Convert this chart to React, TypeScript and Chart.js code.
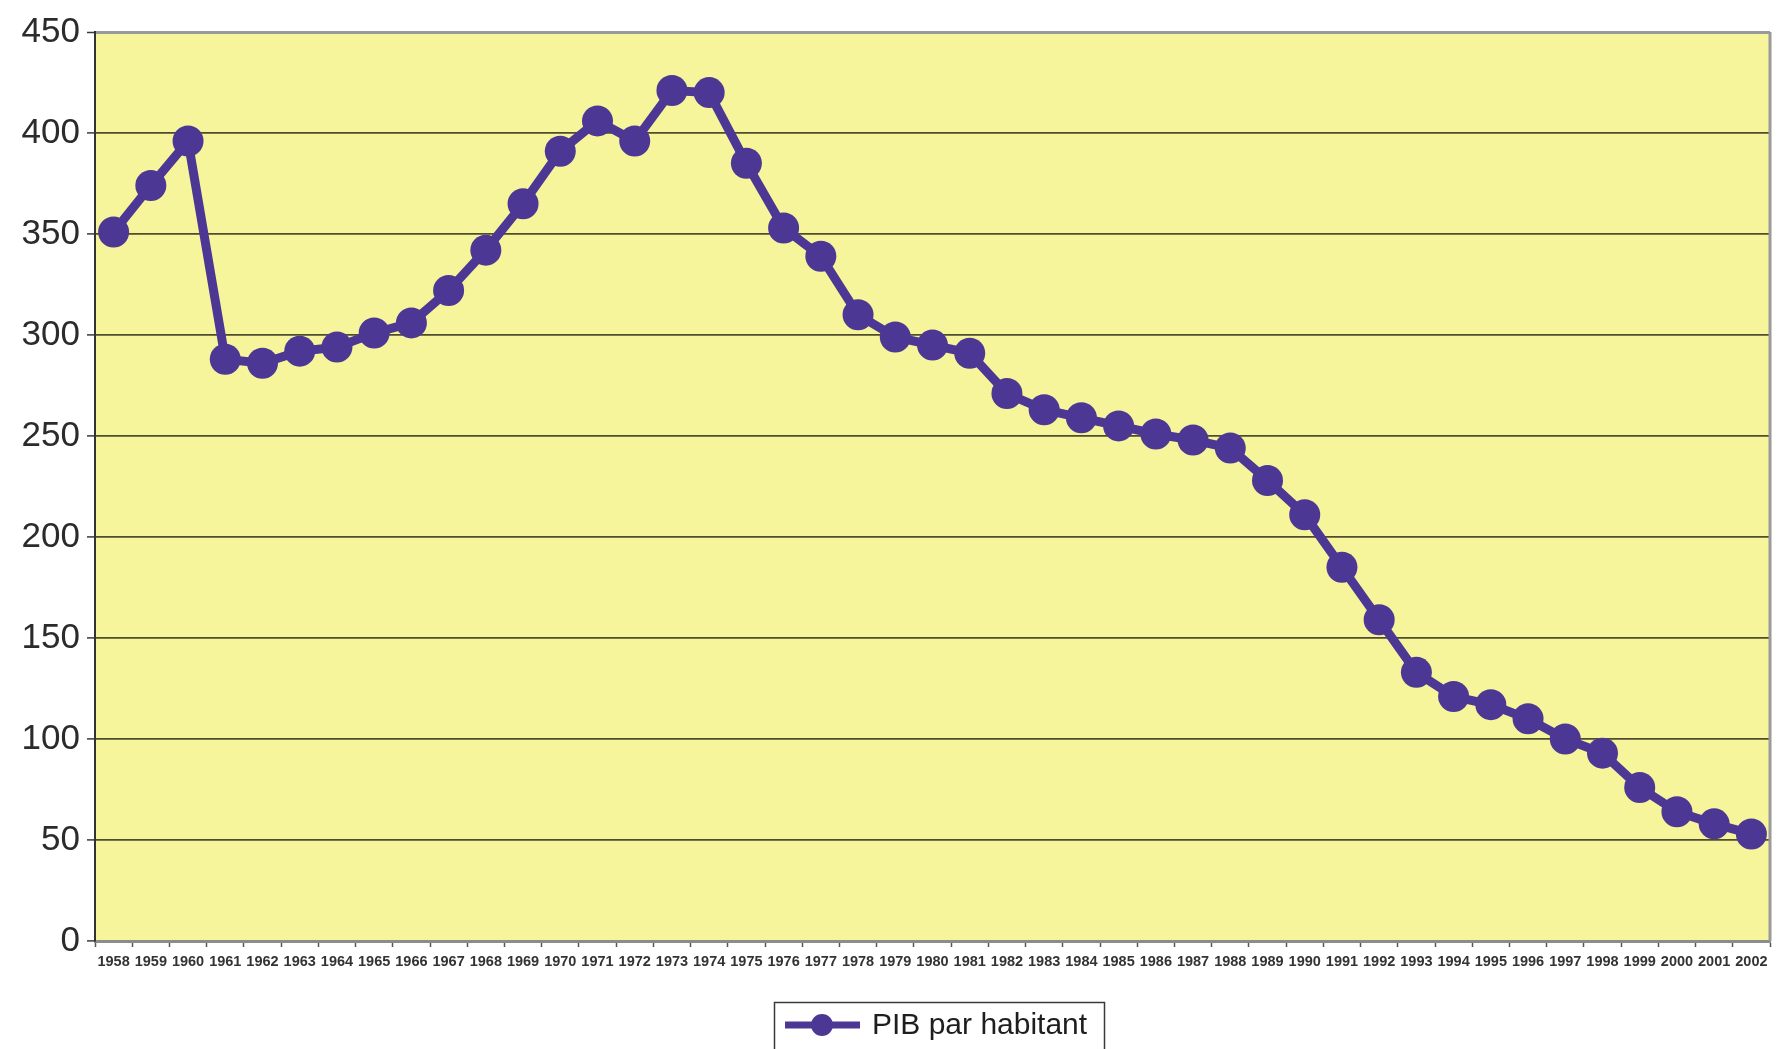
import { useEffect, useRef } from 'react';
import { Chart, registerables } from 'chart.js';

Chart.register(...registerables);

// Years on the category axis
const years = [
  '1958', '1959', '1960', '1961', '1962', '1963', '1964', '1965', '1966', '1967',
  '1968', '1969', '1970', '1971', '1972', '1973', '1974', '1975', '1976', '1977',
  '1978', '1979', '1980', '1981', '1982', '1983', '1984', '1985', '1986', '1987',
  '1988', '1989', '1990', '1991', '1992', '1993', '1994', '1995', '1996', '1997',
  '1998', '1999', '2000', '2001', '2002',
];

// GDP per inhabitant, one value per year
const pibParHabitant = [
  351, 374, 396, 288, 286, 292, 294, 301, 306, 322,
  342, 365, 391, 406, 396, 421, 420, 385, 353, 339,
  310, 299, 295, 291, 271, 263, 259, 255, 251, 248,
  244, 228, 211, 185, 159, 133, 121, 117, 110, 100,
  93, 76, 64, 58, 53,
];

const seriesLabel = 'PIB par habitant';

// Value axis range
const yMin = 0;
const yMax = 450;
const yStep = 50;

const LINE_COLOR = '#4C3894';
const PLOT_FILL = '#F7F59C';
const FONT = "'Liberation Sans', Arial, sans-serif";

const plotBackground = {
  id: 'plotBackground',
  beforeDraw(chart: any) {
    const { ctx, chartArea: a, width, height } = chart;
    ctx.save();
    ctx.fillStyle = '#ffffff';
    ctx.fillRect(0, 0, width, height);
    ctx.fillStyle = PLOT_FILL;
    ctx.fillRect(a.left, a.top, a.right - a.left, a.bottom - a.top);
    ctx.restore();
  },
  afterDraw(chart: any) {
    const { ctx, chartArea: a } = chart;
    ctx.save();
    ctx.strokeStyle = '#9a9a9a';
    ctx.lineWidth = 3;
    ctx.beginPath();
    ctx.moveTo(a.right, a.top);
    ctx.lineTo(a.right, a.bottom);
    ctx.stroke();
    ctx.restore();
  },
};

const boxedLegend = {
  id: 'boxedLegend',
  afterDraw(chart: any) {
    const { ctx } = chart;
    const ds = chart.data.datasets[0];
    const boxX = 774;
    const boxY = 1002;
    const boxW = 330;
    const boxH = 52;
    const cy = 1025;
    ctx.save();
    ctx.fillStyle = '#ffffff';
    ctx.fillRect(boxX, boxY, boxW, boxH);
    ctx.strokeStyle = '#3a3a3a';
    ctx.lineWidth = 1.5;
    ctx.strokeRect(boxX + 0.5, boxY + 0.5, boxW, boxH);
    // sample line with its marker
    ctx.strokeStyle = ds.borderColor;
    ctx.lineWidth = 7;
    ctx.beginPath();
    ctx.moveTo(785, cy);
    ctx.lineTo(860, cy);
    ctx.stroke();
    ctx.fillStyle = ds.pointBackgroundColor;
    ctx.beginPath();
    ctx.arc(822, cy, 11, 0, Math.PI * 2);
    ctx.fill();
    ctx.fillStyle = '#1e1e1e';
    ctx.font = `30px ${FONT}`;
    ctx.textBaseline = 'middle';
    ctx.textAlign = 'left';
    ctx.fillText(ds.label, 872, cy + 1);
    ctx.restore();
  },
};

export default function App() {
  const canvasRef = useRef<HTMLCanvasElement | null>(null);

  useEffect(() => {
    if (!canvasRef.current) return;
    const chart = new Chart(canvasRef.current, {
      type: 'line',
      data: {
        labels: years,
        datasets: [
          {
            label: seriesLabel,
            data: pibParHabitant,
            borderColor: LINE_COLOR,
            backgroundColor: LINE_COLOR,
            pointBackgroundColor: LINE_COLOR,
            pointBorderColor: LINE_COLOR,
            borderWidth: 9,
            pointRadius: 15.5,
            pointBorderWidth: 0,
            tension: 0,
          },
        ],
      },
      options: {
        responsive: false,
        devicePixelRatio: 1,
        animation: false,
        layout: { padding: { top: 32, right: 20, left: 0, bottom: 0 } },
        plugins: {
          legend: { display: false },
          tooltip: { enabled: false },
        },
        scales: {
          x: {
            type: 'category',
            offset: true,
            afterFit(scale: any) {
              scale.height = 108;
            },
            grid: {
              offset: true,
              drawOnChartArea: false,
              drawTicks: true,
              tickLength: 6,
              tickColor: '#555555',
              tickWidth: 1.5,
            },
            border: { display: true, color: '#8c8c8c', width: 3 },
            ticks: {
              autoSkip: false,
              maxRotation: 0,
              minRotation: 0,
              padding: 6,
              color: '#333333',
              font: { family: FONT, size: 14.5, weight: 'bold' },
            },
          },
          y: {
            min: yMin,
            max: yMax,
            afterFit(scale: any) {
              scale.width = 95;
            },
            grid: {
              color: (c: any) => (c.tick && c.tick.value === yMax ? '#9a9a9a' : '#4f4d2c'),
              lineWidth: (c: any) => (c.tick && c.tick.value === yMax ? 3 : 1.8),
              drawTicks: true,
              tickLength: 8,
              tickColor: '#3a3a3a',
              tickWidth: 1.5,
            },
            border: { display: true, color: '#333333', width: 2 },
            ticks: {
              stepSize: yStep,
              padding: 7,
              color: '#2b2b2b',
              font: { family: FONT, size: 35 },
            },
          },
        },
      },
      plugins: [plotBackground, boxedLegend],
    } as any);
    return () => chart.destroy();
  }, []);

  return (
    <div style={{ position: 'fixed', left: 0, top: 0, width: 1790, height: 1049, background: '#ffffff' }}>
      <canvas ref={canvasRef} width={1790} height={1049} style={{ display: 'block' }} />
    </div>
  );
}
